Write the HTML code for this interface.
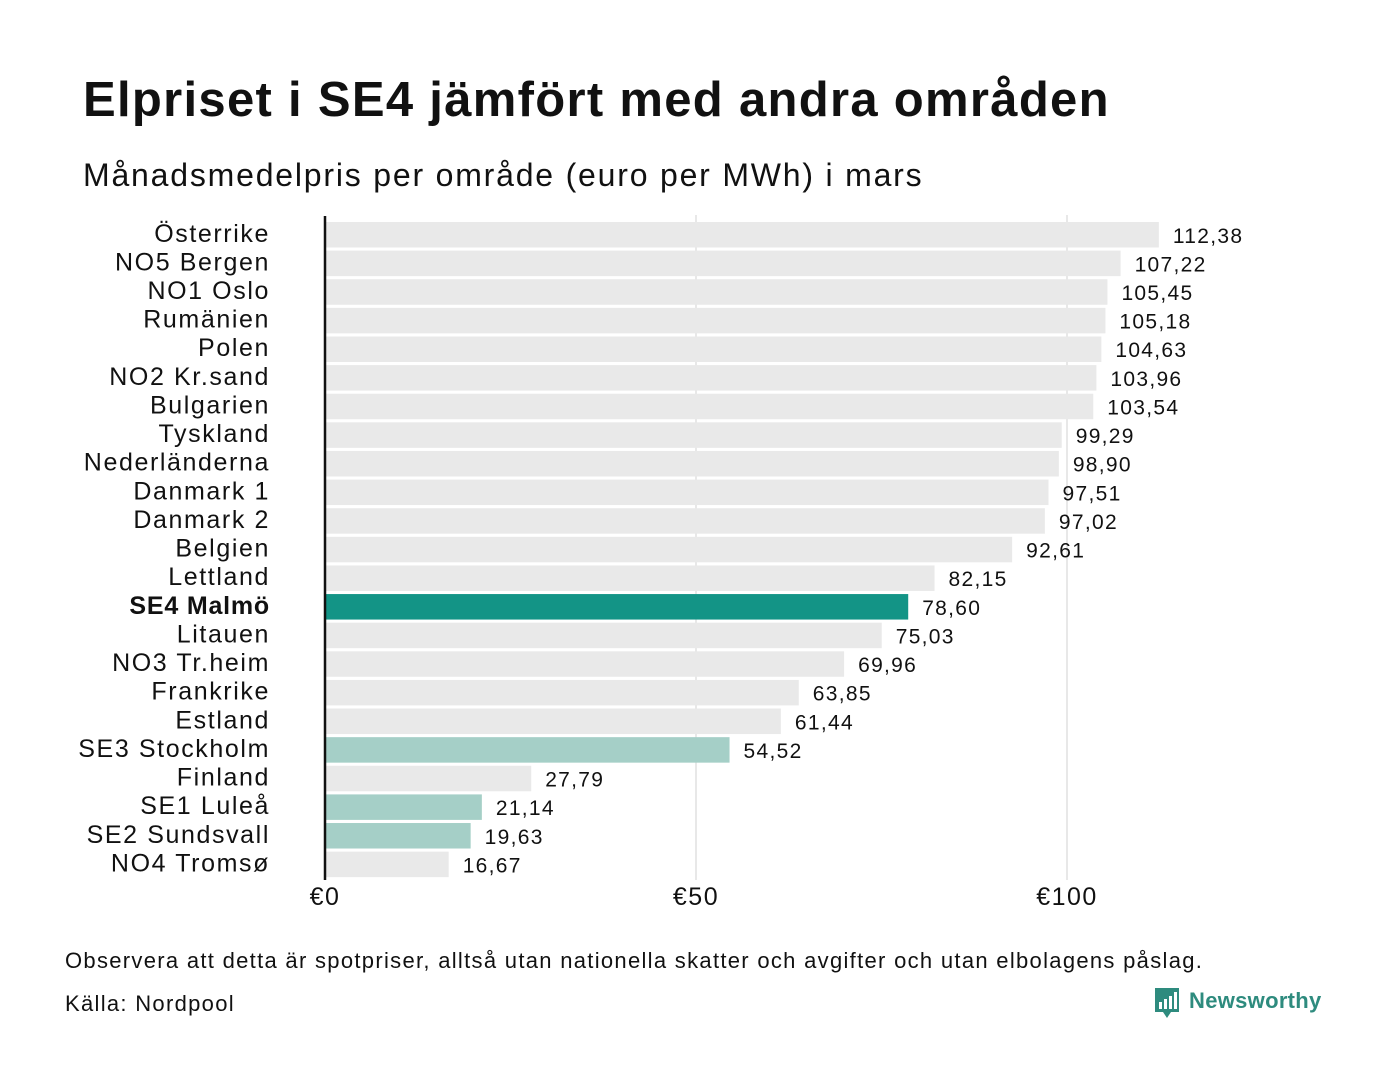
<!DOCTYPE html>
<html><head><meta charset="utf-8"><style>
body{margin:0;background:#fff;font-family:"Liberation Sans","DejaVu Sans",sans-serif;}
#wrap{position:relative;width:1400px;height:1080px;overflow:hidden;}
.t{position:absolute;white-space:nowrap;color:#111;}
</style></head><body><div id="wrap">
<div class="t" style="left:83px;top:72px;font-size:49px;font-weight:bold;letter-spacing:1.3px;">Elpriset i SE4 jämfört med andra områden</div>
<div class="t" style="left:83px;top:157px;font-size:32px;letter-spacing:1.8px;">Månadsmedelpris per område (euro per MWh) i mars</div>
<svg id="chart" width="1400" height="1080" style="position:absolute;left:0;top:0"></svg>
<div class="t" style="left:65px;top:948px;font-size:22px;letter-spacing:1.3px;">Observera att detta är spotpriser, alltså utan nationella skatter och avgifter och utan elbolagens påslag.</div>
<div class="t" style="left:65px;top:991px;font-size:22px;letter-spacing:1.3px;">Källa: Nordpool</div>
<div style="position:absolute;left:1153px;top:986px;">
<svg width="175" height="35"><path d="M2,2h24v24h-8l-4,6-4-6H2z" fill="#2e8b7e"/><rect x="6" y="16" width="3" height="7" fill="#fff"/><rect x="11" y="13" width="3" height="10" fill="#fff"/><rect x="16" y="10" width="3" height="13" fill="#fff"/><rect x="21" y="6" width="3" height="17" fill="#fff"/>
<text x="36" y="22" font-family="Liberation Sans" font-weight="bold" font-size="22" fill="#2e8b7e" letter-spacing="0.3">Newsworthy</text></svg></div>
</div>
<script>
const categories=["Österrike","NO5 Bergen","NO1 Oslo","Rumänien","Polen","NO2 Kr.sand","Bulgarien","Tyskland","Nederländerna","Danmark  1","Danmark  2","Belgien","Lettland","SE4 Malmö","Litauen","NO3 Tr.heim","Frankrike","Estland","SE3  Stockholm","Finland","SE1  Luleå","SE2  Sundsvall","NO4 Tromsø"];
const values=[112.38,107.22,105.45,105.18,104.63,103.96,103.54,99.29,98.90,97.51,97.02,92.61,82.15,78.60,75.03,69.96,63.85,61.44,54.52,27.79,21.14,19.63,16.67];
const ticks=[0,50,100];
const tickLabels=["€0","€50","€100"];
const NS="http://www.w3.org/2000/svg";
const svg=document.getElementById('chart');
const x0=325,sc=7.42,top0=222,step=28.62,bh=25.5;
const xs=v=>x0+v*sc;
const ys=i=>top0+i*step;
function mk(t,a){const e=document.createElementNS(NS,t);for(const k in a)e.setAttribute(k,a[k]);svg.appendChild(e);return e;}
ticks.forEach((t,i)=>{
 if(t>0){const g=mk('line',{x1:xs(t),x2:xs(t),y1:215,y2:880,stroke:'#d0d0d0','stroke-width':1});
 
 }
 const l=mk('text',{x:xs(t),y:905,'text-anchor':'middle','font-size':25,fill:'#111','font-family':'Liberation Sans','letter-spacing':1.5});
 l.textContent=tickLabels[i];
 
 
});
categories.forEach((c,i)=>{
 const y=ys(i);
 let col='#e9e9e9';
 if(c.startsWith('SE4'))col='#139486';else if(c.startsWith('SE'))col='#a5cfc7';
 const r=mk('rect',{x:x0,y:y,width:xs(values[i])-x0,height:bh,fill:col});
 
 
 const lb=mk('text',{x:270,y:y+bh/2+7,'text-anchor':'end','font-size':25,fill:'#111','font-family':'Liberation Sans','xml:space':'preserve','letter-spacing':c.startsWith('SE4')?0.8:1.6});
 if(c.startsWith('SE4'))lb.setAttribute('font-weight','bold');
 lb.textContent=c;
 
 
 const vl=mk('text',{x:xs(values[i])+14,y:y+bh/2+8,'font-size':21,fill:'#111','font-family':'Liberation Sans','letter-spacing':1.3});
 vl.textContent=values[i].toFixed(2).replace('.',',');
 
 
});
const ax=mk('line',{x1:x0,x2:x0,y1:216,y2:880,stroke:'#111','stroke-width':2.5});


</script></body></html>
